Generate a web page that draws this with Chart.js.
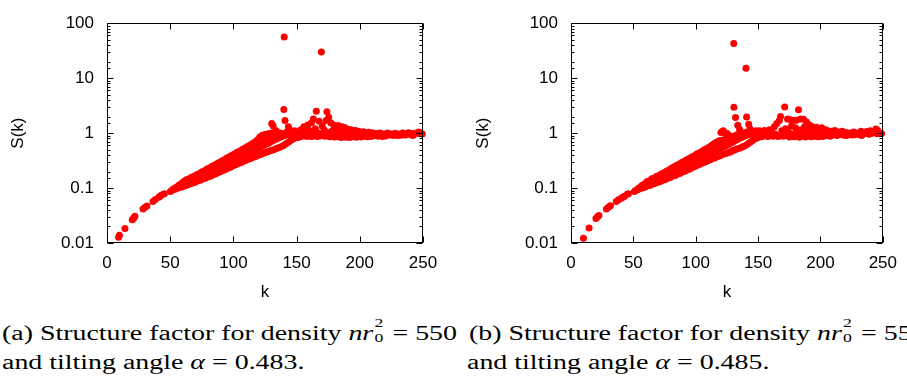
<!DOCTYPE html>
<html>
<head>
<meta charset="utf-8">
<script src="https://cdn.jsdelivr.net/npm/chart.js@4/dist/chart.umd.min.js"></script>
<style>
  html, body { margin: 0; padding: 0; background: #fff; }
  body { width: 907px; height: 383px; overflow: hidden; position: relative; }
  canvas { position: absolute; top: 0; }
  #chartA { left: 0; }
  #chartB { left: 453px; }
  .cap { position: absolute; font-family: "Liberation Serif", "Times New Roman", serif; font-size: 20.5px; line-height: 1; white-space: nowrap; color: #000; transform-origin: 0 0; }
  .stk { display: inline-block; position: relative; width: 9px; height: 0; }
  .stk span { position: absolute; left: 1px; font-size: 13px; line-height: 1; }
  .stk .up { top: -24px; }
  .stk .dn { top: -9px; }
</style>
</head>
<body>
<canvas id="chartA" width="453" height="305"></canvas>
<canvas id="chartB" width="454" height="305"></canvas>

<div class="cap" id="capA1" style="left:2px;top:323px">(a) Structure factor for density <i>nr</i><span class="stk"><span class="up">2</span><span class="dn">0</span></span> = 550</div>
<div class="cap" style="left:2px;top:352px">and tilting angle <i>α</i> = 0.483.</div>
<div class="cap" style="left:469px;top:323px">(b) Structure factor for density <i>nr</i><span class="stk"><span class="up">2</span><span class="dn">0</span></span> = 550</div>
<div class="cap" style="left:467px;top:352px">and tilting angle <i>α</i> = 0.485.</div>

<script>
// axis ranges / ticks
const kRange = [0, 250];
const kStep = 50;
const sRange = [0.01, 100];

// (a) n r0^2 = 550, alpha = 0.483
const kA = [
  9.2, 9.8, 14.2, 20.0, 21.1, 22.1, 28.5, 30.1, 31.6, 36.4, 38.2, 40.9, 42.0, 43.2, 45.4, 50.1,
  51.6, 52.4, 53.8, 54.4, 55.6, 56.2, 56.8, 57.7, 58.3, 58.9,
  59.6, 60.2, 60.8, 61.7, 62.3, 62.7, 63.6, 64.2, 64.8,
  65.7, 66.3, 66.9, 67.6, 68.2, 68.8, 69.7, 70.3, 70.9,
  71.6, 72.2, 72.8, 73.7, 74.3, 74.9, 75.6, 76.2, 76.8,
  77.7, 78.3, 78.9, 79.6, 80.2, 80.8, 81.7, 82.3, 82.9,
  83.6, 84.2, 84.8, 85.7, 86.3, 86.9, 87.6, 88.2, 88.8,
  89.7, 90.3, 90.9, 91.6, 92.2, 92.8, 93.7, 94.3, 94.9,
  95.6, 96.2, 96.8, 97.7, 98.3, 98.9, 99.6, 100.2, 100.8,
  101.7, 102.3, 102.9, 103.6, 104.2, 104.8,
  105.6, 106.0, 106.4, 106.9, 107.6, 108.0, 108.5, 108.9,
  109.6, 110.0, 110.5, 110.9, 111.6, 112.0, 112.5, 112.9,
  113.6, 114.0, 114.5, 114.9, 115.6, 116.0, 116.5, 116.9,
  117.6, 118.0, 118.5, 118.9, 119.6, 120.0, 120.5, 120.9,
  121.6, 122.0, 122.5, 122.9, 123.6, 124.0, 124.5, 124.9,
  125.6, 126.0, 126.5, 126.9, 127.6, 128.0, 128.5, 128.9,
  129.6, 130.0, 130.3, 130.6, 130.9, 131.5, 131.7, 132.0, 132.4,
  133.6, 133.8, 134.1, 134.5, 135.6, 136.0, 136.4, 136.8, 137.6, 138.0, 138.5,
  139.6, 139.9, 140.2, 140.6, 140.8, 141.0, 141.6, 142.0, 142.4,
  143.5, 143.7, 144.1, 144.5, 145.6, 146.0, 146.5, 147.6, 148.0, 148.5, 149.6, 150.0, 150.5,
  151.0, 151.8, 152.5, 153.3, 154.0, 155.0,
  155.8, 156.5, 157.3, 158.0, 158.8, 159.5, 160.3, 161.0, 161.8, 162.5,
  163.3, 164.0, 164.8, 165.6, 166.3, 167.0, 167.8, 168.5, 169.6, 170.3,
  171.0, 171.8, 172.5, 173.3, 174.0, 174.8, 175.4, 176.2, 177.0, 177.8,
  178.5, 179.3, 180.0, 180.8, 181.5, 182.3, 183.0, 183.8, 184.5, 185.3,
  186.0, 186.8, 187.5, 188.3, 189.0, 189.8, 190.5, 191.3, 192.0, 192.8,
  193.5, 194.3, 195.0, 195.8, 196.5, 197.3, 198.0, 198.8, 199.5, 200.3,
  201.0, 202.0, 203.0, 204.0, 205.0, 206.0, 207.0, 208.0, 209.0, 210.0,
  211.5, 213.0, 214.5, 216.0, 217.5, 219.0, 220.5, 222.0, 223.5, 225.0,
  226.5, 228.0, 229.5, 231.0, 232.5, 234.0, 235.5, 237.0, 238.5, 240.0,
  241.5, 243.0, 245.0, 246.5, 248.0, 249.5,
  152.0, 157.0, 162.0, 170.0, 176.0, 182.0, 188.0, 194.0, 200.0,
  206.0, 212.0, 218.0, 224.0, 230.0, 236.0, 242.0, 247.0
];
const sA = [
  0.0127, 0.0138, 0.0183, 0.0265, 0.0285, 0.0306, 0.0414, 0.0445, 0.0472, 0.057, 0.062, 0.068, 0.071, 0.075, 0.079, 0.0865,
  0.091, 0.096, 0.095, 0.102, 0.099, 0.108, 0.113, 0.102, 0.114, 0.121,
  0.106, 0.121, 0.131, 0.110, 0.126, 0.141, 0.114, 0.133, 0.147,
  0.119, 0.137, 0.157, 0.123, 0.145, 0.164, 0.128, 0.150, 0.175,
  0.134, 0.158, 0.183, 0.139, 0.164, 0.196, 0.146, 0.174, 0.205,
  0.151, 0.181, 0.219, 0.159, 0.191, 0.231, 0.164, 0.200, 0.247,
  0.173, 0.209, 0.259, 0.180, 0.222, 0.277, 0.190, 0.231, 0.291,
  0.197, 0.245, 0.312, 0.209, 0.255, 0.328, 0.217, 0.271, 0.352,
  0.230, 0.284, 0.370, 0.240, 0.302, 0.397, 0.255, 0.316, 0.418,
  0.265, 0.337, 0.447, 0.279, 0.350, 0.468,
  0.290, 0.374, 0.430, 0.502, 0.305, 0.390, 0.456, 0.528,
  0.317, 0.414, 0.478, 0.567, 0.333, 0.433, 0.512, 0.598,
  0.346, 0.460, 0.543, 0.642, 0.363, 0.480, 0.582, 0.688,
  0.377, 0.510, 0.618, 0.752, 0.395, 0.533, 0.662, 0.848,
  0.410, 0.567, 0.698, 0.918, 0.429, 0.593, 0.747, 0.942,
  0.444, 0.632, 0.788, 0.958, 0.464, 0.663, 0.832, 0.982,
  0.481, 0.702, 1.500, 0.868, 1.002, 1.350, 0.500, 0.742, 0.902,
  0.519, 1.100, 0.778, 0.938, 0.541, 0.822, 0.962, 1.004, 0.566, 0.858, 0.978,
  0.596, 2.690, 56.0, 0.902, 1.690, 1.002, 0.638, 0.932, 1.048,
  1.300, 0.688, 0.958, 1.148, 0.742, 0.898, 1.052, 0.788, 0.952, 1.098, 0.828, 0.902, 1.000,
  0.830, 0.980, 0.860, 1.150, 0.880, 0.950,
  1.300, 0.900, 1.050, 0.870, 1.400, 0.920, 1.100, 0.880, 1.550, 0.950,
  1.800, 0.900, 1.200, 2.500, 0.870, 1.000, 1.650, 0.890, 29.8, 1.350,
  0.950, 1.150, 0.880, 1.700, 2.450, 1.000, 1.940, 0.860, 1.550, 1.080,
  0.900, 1.400, 0.850, 1.250, 1.050, 0.870, 1.380, 0.950, 1.200, 0.830,
  1.300, 1.100, 0.900, 1.250, 0.840, 1.050, 1.180, 0.920, 0.830, 1.150,
  1.000, 0.860, 1.100, 0.900, 1.120, 0.840, 1.000, 1.080, 0.880, 1.050,
  0.850, 0.960, 1.060, 0.880, 1.000, 0.860, 1.040, 0.920, 0.870, 1.020,
  0.900, 0.980, 0.880, 1.000, 0.910, 0.960, 0.890, 1.000, 0.920, 0.960,
  0.900, 0.990, 0.930, 0.960, 0.910, 1.000, 0.940, 0.970, 1.020, 0.940,
  0.980, 0.950, 1.000, 1.050, 1.020, 0.960,
  0.900, 0.930, 0.870, 0.920, 0.950, 0.900, 0.960, 0.920, 0.900,
  0.950, 0.930, 0.870, 0.950, 0.900, 0.920, 0.900, 0.980
];

// (b) n r0^2 = 550, alpha = 0.485
const kB = [
  10.0, 14.5, 20.0, 21.2, 22.4, 28.4, 30.0, 31.6, 36.3, 38.0, 40.3, 41.5, 42.9, 45.0, 46.0, 50.8,
  51.8, 52.9, 53.7, 54.4, 55.6, 56.2, 56.8, 57.7, 58.3, 58.9,
  59.6, 60.2, 60.8, 61.7, 62.3, 62.9, 63.6, 64.2, 64.8,
  65.7, 66.3, 66.9, 67.6, 68.2, 68.8, 69.7, 70.3, 70.9,
  71.6, 72.2, 72.8, 73.7, 74.3, 74.9, 75.6, 76.2, 76.8,
  77.7, 78.3, 78.9, 79.6, 80.2, 80.8, 81.7, 82.3, 82.9,
  83.6, 84.2, 84.8, 85.7, 86.3, 86.9, 87.6, 88.2, 88.8,
  89.7, 90.3, 90.9, 91.6, 92.2, 92.8, 93.7, 94.3, 94.9,
  95.6, 96.2, 96.8, 97.7, 98.3, 98.9, 99.6, 100.2, 100.8,
  101.7, 102.3, 102.9, 103.6, 104.2, 104.8,
  105.6, 106.0, 106.4, 106.9, 107.6, 108.0, 108.5, 108.9,
  109.6, 110.0, 110.5, 110.9, 111.6, 112.0, 112.5, 112.9,
  113.6, 114.0, 114.5, 114.9, 115.6, 116.0, 116.5, 116.9,
  117.6, 118.0, 118.5, 118.9, 119.6, 120.0, 120.2, 120.5, 120.9, 121.0,
  122.0, 122.3, 122.6, 122.9, 123.2, 123.5, 124.3, 124.6, 125.0, 125.2,
  126.3, 126.6, 126.9, 127.2, 128.3, 128.6, 128.9,
  129.8, 130.1, 130.4, 130.5, 130.6, 131.6, 131.9, 132.2, 132.6,
  133.4, 133.7, 134.0, 134.4, 135.2, 135.6, 136.0, 136.4, 137.6, 138.0, 138.4,
  139.6, 140.0, 140.3, 140.4, 140.8, 141.6, 142.0, 142.4, 142.5,
  143.5, 143.7, 144.0, 144.4, 145.6, 146.0, 146.4, 147.6, 148.0, 148.4, 149.6, 150.0, 150.4,
  151.2, 152.0, 153.0, 154.0, 155.0, 156.0, 157.0, 158.0, 159.0, 160.0,
  161.0, 162.0, 163.0, 164.0, 165.0, 166.0, 167.0, 168.0, 169.0, 170.0,
  171.3, 172.0, 172.8, 173.6, 174.4, 175.2, 176.0, 176.8, 177.6, 178.4,
  179.2, 180.0, 180.8, 181.6, 182.4, 183.2, 184.0, 184.8, 185.6, 186.4,
  187.2, 188.0, 188.8, 189.6, 190.4, 191.2, 192.0, 192.8, 193.6, 194.4,
  195.2, 196.0, 196.8, 197.6, 198.4, 199.2, 200.0, 201.0, 202.0, 203.0,
  204.0, 205.0, 206.0, 207.0, 208.0, 209.0, 210.0, 211.5, 213.0, 214.5,
  216.0, 217.5, 219.0, 220.5, 222.0, 223.5, 225.0, 226.5, 228.0, 229.5,
  231.0, 232.5, 234.0, 235.5, 237.0, 238.5, 240.0, 241.5, 243.0, 244.5,
  246.0, 247.5, 249.0,
  152.5, 157.5, 162.5, 170.5, 178.0, 186.0, 194.0, 201.5,
  207.5, 214.0, 221.0, 227.0, 233.0, 239.0, 245.5
];
const sB = [
  0.0122, 0.0188, 0.0280, 0.0300, 0.0317, 0.0414, 0.0445, 0.0478, 0.0567, 0.061, 0.065, 0.068, 0.071, 0.077, 0.079, 0.0866,
  0.090, 0.0935, 0.094, 0.100, 0.098, 0.106, 0.111, 0.101, 0.113, 0.118,
  0.105, 0.117, 0.130, 0.110, 0.124, 0.136, 0.113, 0.131, 0.147,
  0.118, 0.135, 0.153, 0.122, 0.143, 0.164, 0.128, 0.148, 0.171,
  0.131, 0.157, 0.183, 0.139, 0.162, 0.191, 0.143, 0.172, 0.205,
  0.151, 0.179, 0.215, 0.156, 0.189, 0.231, 0.165, 0.196, 0.243,
  0.170, 0.208, 0.259, 0.180, 0.217, 0.273, 0.186, 0.230, 0.291,
  0.197, 0.240, 0.307, 0.204, 0.255, 0.328, 0.216, 0.267, 0.346,
  0.225, 0.283, 0.369, 0.239, 0.296, 0.389, 0.249, 0.315, 0.416,
  0.263, 0.330, 0.441, 0.273, 0.350, 0.464,
  0.288, 0.367, 0.426, 0.496, 0.299, 0.389, 0.449, 0.526,
  0.315, 0.408, 0.479, 0.559, 0.327, 0.432, 0.507, 0.601,
  0.344, 0.453, 0.541, 0.649, 0.357, 0.479, 0.576, 0.688,
  0.375, 0.502, 0.611, 0.722, 0.389, 0.531, 1.030, 0.651, 0.741, 1.060,
  1.100, 0.411, 0.564, 0.688, 0.761, 1.000, 0.425, 0.596, 0.789, 0.980,
  0.444, 0.629, 0.821, 0.898, 0.460, 0.667, 0.849,
  0.481, 0.699, 0.878, 42.5, 2.940, 0.497, 1.930, 0.741, 0.921,
  0.518, 1.390, 0.779, 0.951, 1.160, 0.537, 0.821, 0.979, 0.563, 0.861, 1.001,
  0.589, 0.899, 15.2, 1.021, 1.970, 0.636, 0.931, 1.049, 1.450,
  1.200, 0.684, 0.961, 1.081, 0.736, 0.921, 1.052, 0.786, 0.959, 1.101, 0.826, 0.901, 1.019,
  1.100, 0.860, 0.980, 0.880, 1.120, 0.900, 1.000, 0.870, 1.150, 0.920,
  1.050, 0.880, 1.300, 0.950, 1.500, 0.870, 1.700, 2.000, 1.100, 0.880,
  2.990, 1.200, 0.900, 1.800, 1.050, 0.850, 1.750, 1.350, 0.950, 1.700,
  0.860, 1.250, 1.720, 1.000, 2.650, 0.840, 1.800, 1.150, 0.900, 1.780,
  1.300, 0.850, 1.600, 1.050, 0.880, 1.400, 1.150, 0.860, 1.300, 0.950,
  1.200, 0.880, 1.280, 1.000, 0.860, 1.150, 0.920, 1.250, 0.870, 1.050,
  1.150, 0.900, 1.100, 0.950, 0.880, 1.080, 0.930, 1.120, 0.900, 1.050,
  0.950, 1.080, 0.910, 1.030, 0.960, 1.000, 0.920, 1.050, 0.950, 1.000,
  0.940, 1.080, 0.960, 1.000, 1.070, 0.970, 1.100, 0.990, 1.050, 1.190,
  1.120, 1.000, 0.980,
  0.920, 0.890, 0.930, 0.900, 0.880, 0.920, 0.900, 0.930,
  0.900, 0.920, 0.900, 0.930, 0.900, 0.950, 0.970
];

const tickFont = { family: "'Liberation Sans', Arial, sans-serif", size: 17 };

function isDecade(v) {
  const l = Math.log10(v);
  return Math.abs(l - Math.round(l)) < 1e-6;
}

// gnuplot style frame: border on all sides, ticks pointing inwards
const frameTicks = {
  id: 'frameTicks',
  afterDraw(chart) {
    const { ctx, chartArea: a, scales: { x, y } } = chart;
    const L = Math.round(a.left) + 0.5, R = Math.round(a.right) - 0.5;
    const T = Math.round(a.top) + 0.5, B = Math.round(a.bottom) - 0.5;
    ctx.save();
    ctx.strokeStyle = '#000';
    ctx.lineWidth = 1;
    ctx.beginPath();
    x.ticks.forEach(t => {
      const px = Math.round(x.getPixelForValue(t.value)) + 0.5;
      ctx.moveTo(px, B); ctx.lineTo(px, B - 6);
      ctx.moveTo(px, T); ctx.lineTo(px, T + 6);
    });
    y.ticks.forEach(t => {
      const py = Math.round(y.getPixelForValue(t.value)) + 0.5;
      const len = isDecade(t.value) ? 6 : 3;
      ctx.moveTo(L, py); ctx.lineTo(L + len, py);
      ctx.moveTo(R, py); ctx.lineTo(R - len, py);
    });
    ctx.stroke();
    ctx.strokeRect(L, T, R - L, B - T);
    ctx.restore();
  }
};

function makeChart(id, ks, ss, yWidth, padRight, yTitlePad) {
  const ctx = document.getElementById(id).getContext('2d');
  return new Chart(ctx, {
    type: 'scatter',
    data: {
      datasets: [{
        data: ks.map((k, i) => ({ x: k, y: ss[i] })),
        backgroundColor: '#ff0000',
        borderWidth: 0,
        pointRadius: 3.5,
        pointHoverRadius: 3.5,
        clip: false
      }]
    },
    options: {
      responsive: false,
      animation: false,
      devicePixelRatio: 1,
      events: [],
      layout: { padding: { top: 10, right: padRight, left: 0, bottom: 0 } },
      plugins: { legend: { display: false }, tooltip: { enabled: false } },
      scales: {
        x: {
          type: 'linear',
          min: kRange[0], max: kRange[1],
          grid: { display: false, drawTicks: false },
          border: { display: false },
          ticks: { stepSize: kStep, font: tickFont, color: '#000', padding: 10, maxRotation: 0 },
          title: { display: true, text: 'k', font: tickFont, color: '#000', padding: { top: 0, bottom: 2 } },
          afterFit: s => { s.height = 62; }
        },
        y: {
          type: 'logarithmic',
          min: sRange[0], max: sRange[1],
          grid: { display: false, drawTicks: false },
          border: { display: false },
          ticks: {
            font: tickFont, color: '#000', padding: 13, autoSkip: false,
            callback: v => isDecade(v) ? String(Number(v.toPrecision(1))) : ''
          },
          title: { display: true, text: 'S(k)', font: tickFont, color: '#000', padding: { top: yTitlePad, bottom: 0 } },
          afterFit: s => { s.width = yWidth; }
        }
      }
    },
    plugins: [frameTicks]
  });
}

makeChart('chartA', kA, sA, 107, 30, 8);
makeChart('chartB', kB, sB, 118, 20, 20);

// stretch the serif captions to the measured width of the original lines
const capW = document.getElementById('capA1').getBoundingClientRect().width;
const fx = 455 / capW;
document.querySelectorAll('.cap').forEach(el => { el.style.transform = 'scaleX(' + fx + ')'; });
</script>
</body>
</html>
